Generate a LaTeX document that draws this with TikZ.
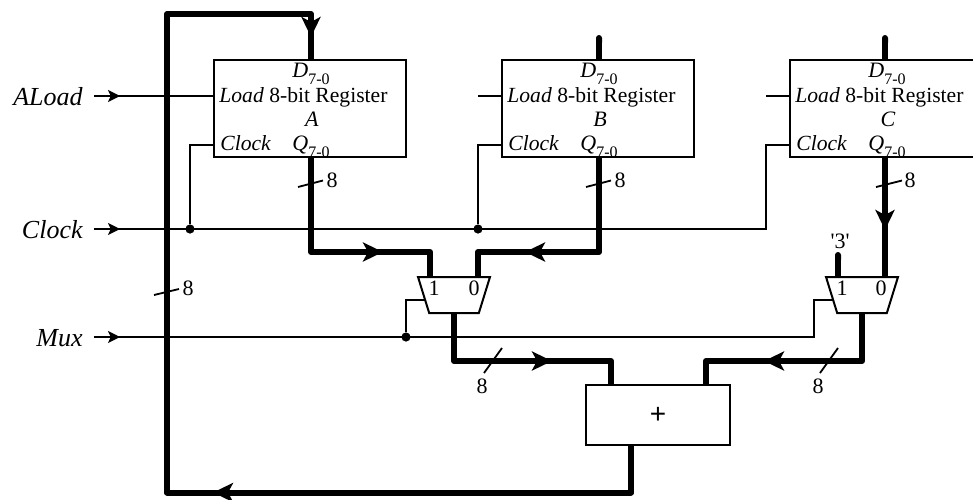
\documentclass[tikz,border=0pt]{standalone}
\usepackage{fontspec}
\setmainfont{Liberation Serif}
\setsansfont{Liberation Sans}
\usetikzlibrary{shapes.geometric,arrows.meta,positioning,calc}

\newcommand{\subrange}{\raisebox{-3.5pt}{\fontsize{8}{8}\selectfont 7-0}}

\begin{document}
\begin{tikzpicture}[
    x=0.5pt, y=-0.5pt,
    every node/.style={font=\fontsize{11}{13}\selectfont, inner sep=0pt},
    node distance=144pt,
    reg/.style={rectangle, draw, line width=1pt, minimum width=96pt, minimum height=48.5pt},
    mux/.style={trapezium, draw, line width=1pt, shape border rotate=180, trapezium stretches=true, trapezium left angle=71.6, trapezium right angle=71.6, minimum width=36pt, minimum height=18pt},
    adderbox/.style={rectangle, draw, line width=1pt, minimum width=72pt, minimum height=30pt, font=\fontsize{14}{16}\selectfont\sffamily},
    sig/.style={font=\fontsize{13}{15}\selectfont\itshape, anchor=base east},
    regtext/.style={font=\fontsize{10.8}{13}\selectfont},
    wire/.style={line width=1pt},
    wirearrow/.style={wire, -{Stealth[length=6pt,width=6pt,inset=1.4pt]}},
    bus/.style={line width=3pt, line join=round},
    stub/.style={bus, {Round Cap[]}-},
    busarrow/.style={line width=3pt, -{Stealth[length=10pt,width=9.5pt,inset=2.5pt]}},
    slash/.style={line width=0.9pt},
    dot/.style={circle, fill=black, minimum size=4.6pt}
]
\useasboundingbox (0,0) rectangle (973,499);

\node [reg] at (310,108.5) (rega) {};
\node [reg, right of=rega] (regb) {};
\node [reg, right of=regb] (regc) {};
\node [mux] at (454,295) (muxl) {\phantom{00}};
\node [mux] at (862,295) (muxr) {\phantom{00}};
\node [adderbox] at (658,415) (adder) {+};

\foreach \r/\n in {a/A, b/B, c/C} {
    \node [anchor=base] at ($(reg\r.north)+(1,18)$) (reg\r d) {\textit{D}\subrange};
    \node [regtext, anchor=base west] at ($(reg\r.north west)+(6,43)$) (reg\r load) {\textit{Load} 8-bit Register};
    \node [anchor=base] at ($(reg\r.north)+(2,67)$) (reg\r name) {\textit{\n}};
    \node [regtext, anchor=base west] at ($(reg\r.north west)+(7,91)$) (reg\r clock) {\textit{Clock}};
    \node [anchor=base] at ($(reg\r.north)+(1,91)$) (reg\r q) {\textit{Q}\subrange};
}

\node [sig] at (83,105) (aload) {ALoad};
\node [sig] at (83,238) (clock) {Clock};
\node [sig] at (83,346) (mux) {Mux};
\node at (434,288) (muxlone) {1};
\node at (474,288) (muxlzero) {0};
\node at (842,288) (muxrone) {1};
\node at (881,288) (muxrzero) {0};
\node at (840,241) (three) {\textquotesingle 3\textquotesingle};
\node at (332,180) (widtha) {8};
\node at (620,180) (widthb) {8};
\node at (910,180) (widthc) {8};
\node at (188,288) (widthloop) {8};
\node at (482,386) (widthl) {8};
\node at (818,386) (widthr) {8};

\node [dot] at (190,229) (dotclocka) {};
\node [dot] at (478,229) (dotclockb) {};
\node [dot] at (406,337) (dotmux) {};

\coordinate (aloadstart) at (94,96);
\coordinate (clockstart) at (94,229);
\coordinate (muxstart) at (94,337);
\coordinate (loada) at (214,96);
\coordinate (loadb) at (502,96);
\coordinate (loadc) at (790,96);
\coordinate (stubb) at (478,96);
\coordinate (stubc) at (766,96);
\coordinate (clka) at (214,145);
\coordinate (clkb) at (502,145);
\coordinate (clkc) at (790,145);
\coordinate (clkend) at (766,229);
\coordinate (selend) at (814,337);
\coordinate (sell) at (426,300);
\coordinate (selr) at (834,300);

\draw [wire] (aloadstart) -- (loada);
\draw [wire] (stubb) -- (loadb);
\draw [wire] (stubc) -- (loadc);
\draw [wire] (clockstart) -- (clkend) |- (clkc);
\draw [wire] (dotclocka) |- (clka);
\draw [wire] (dotclockb) |- (clkb);
\draw [wire] (muxstart) -- (selend) |- (selr);
\draw [wire] (dotmux) |- (sell);
\draw [wirearrow] (aloadstart) -- ++(26,0);
\draw [wirearrow] (clockstart) -- ++(26,0);
\draw [wirearrow] (muxstart) -- ++(26,0);

\coordinate (qa) at (311,157);
\coordinate (qb) at (599,157);
\coordinate (qc) at (885,157);
\coordinate (da) at (311,60);
\coordinate (db) at (599,60);
\coordinate (dc) at (885,60);
\coordinate (muxla) at (430,277);
\coordinate (muxlb) at (478,277);
\coordinate (muxra) at (838,277);
\coordinate (muxrb) at (885,277);
\coordinate (muxlout) at (454,313);
\coordinate (muxrout) at (862,313);
\coordinate (addl) at (611,385);
\coordinate (addr) at (706,385);
\coordinate (addout) at (631,445);

\draw [bus] (addout) -- (631,492.5) -- (167,492.5) -- (167,14) -- (311,14) -- (da);
\draw [bus] (qa) -- (311,252) -- (430,252) -- (muxla);
\draw [bus] (qb) -- (599,252) -- (478,252) -- (muxlb);
\draw [bus] (qc) -- (muxrb);
\draw [stub] (599,35) -- (db);
\draw [stub] (885,35) -- (dc);
\draw [stub] (838,252) -- (muxra);
\draw [bus] (muxlout) -- (454,361) -- (611,361) -- (addl);
\draw [bus] (muxrout) -- (862,361) -- (706,361) -- (addr);

\draw [busarrow] (311,14) -- (311,37);
\draw [busarrow] (361,252) -- (383,252);
\draw [busarrow] (547,252) -- (525,252);
\draw [busarrow] (530,361) -- (552,361);
\draw [busarrow] (786,361) -- (764,361);
\draw [busarrow] (885,208) -- (885,230);
\draw [busarrow] (235,492.5) -- (213,492.5);

\draw [slash] (298,187) -- (323,180.5);
\draw [slash] (586,187) -- (611,180.5);
\draw [slash] (876,187) -- (902,180.5);
\draw [slash] (154,295) -- (179,289);
\draw [slash] (484,373) -- (502,348);
\draw [slash] (820,373) -- (838,348);

\end{tikzpicture}
\end{document}
